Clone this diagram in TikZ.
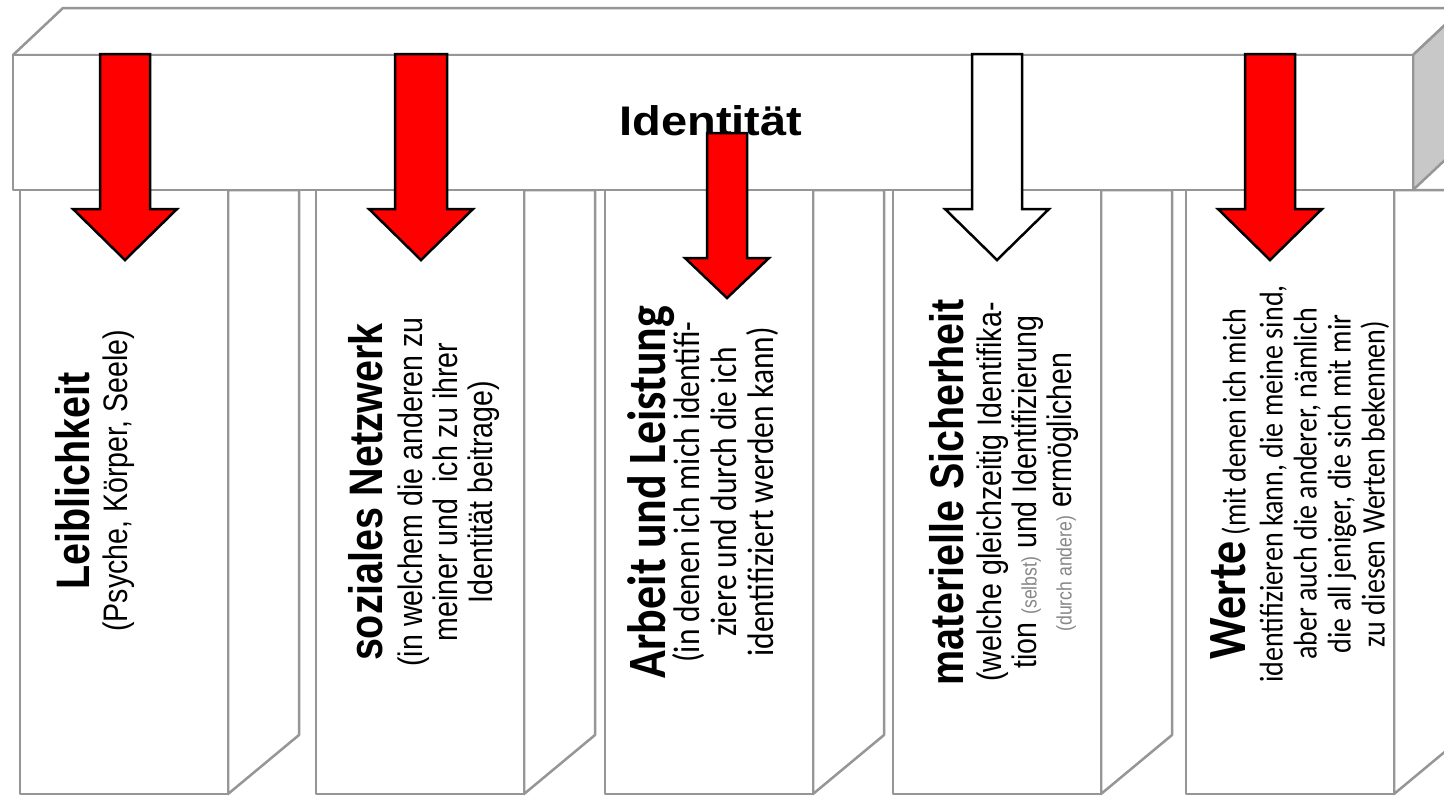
\documentclass[tikz,border=0pt]{standalone}
\usepackage{fontspec}
\usepackage{graphicx}
\setmainfont{Liberation Sans}
\newfontfamily\arialschmal[FakeStretch=0.84]{Liberation Sans}
\newfontfamily\calibrischmal[FakeStretch=0.85]{Carlito}

\definecolor{kante}{RGB}{150,150,150}
\definecolor{seite}{RGB}{200,200,200}
\definecolor{pfeilrot}{RGB}{255,0,0}
\definecolor{klein}{RGB}{135,135,135}

\newcommand{\kopfA}{\arialschmal\bfseries\fontsize{47}{50}\selectfont}
\newcommand{\textA}{\arialschmal\fontsize{34}{35}\selectfont}
\newcommand{\kopfC}{\calibrischmal\bfseries\fontsize{54}{56}\selectfont}
\newcommand{\textC}{\calibrischmal\fontsize{37}{37}\selectfont}
\newcommand{\textCC}{\calibrischmal\fontsize{33}{34}\selectfont}
\newcommand{\kleingrau}{\fontsize{21}{21}\selectfont\color{klein}}

% Blockpfeil: [Farbe]{Mitte}{oben}{Schaftende}{Spitze}{halbe Schaftbreite}{halbe Kopfbreite}
\newcommand{\pfeil}[7][pfeilrot]{\draw[pfeilrand, fill=#1] ({#2-#6},#3) -- ({#2+#6},#3) -- ({#2+#6},#4) -- ({#2+#7},#4) -- (#2,#5) -- ({#2-#7},#4) -- ({#2-#6},#4) -- cycle;}

\begin{document}
\begin{tikzpicture}[x=1pt, y=-1pt,
	kanten/.style={draw=kante, line width=2.5pt, line join=round},
	pfeilrand/.style={draw=black, line width=2.5pt, line join=miter},
	spalte/.style={rotate=90, align=center, inner sep=0pt}] %Beginn, Pixelmaßstab
					\useasboundingbox (0,0) rectangle (1444,796); %Bildgröße
					\fill[white] (0,0) rectangle (1444,796); %Hintergrund
					\clip (0,0) rectangle (1444,796);
						%Säulen
					\foreach \xl in {20,316,605,893,1186}{
						\draw[kanten, fill=white] (\xl+208,190) -- (\xl+279,190) -- (\xl+279,735) -- (\xl+208,794) -- cycle; %Seitenfläche
						\draw[kanten, fill=white] (\xl,190) rectangle (\xl+208,794); %Vorderseite
					}
						%Balken
					\draw[kanten, fill=white] (13,55) -- (63,8) -- (1463,8) -- (1413,55) -- cycle; %Oberseite
					\draw[kanten, fill=seite] (1413,55) -- (1463,8) -- (1463,143) -- (1413,190) -- cycle; %rechte Seite
					\draw[kanten, fill=white] (13,55) rectangle (1413,190); %Vorderseite
					\node[anchor=base, font=\bfseries\fontsize{47}{50}\selectfont] (identitaet) at (711,135) {\scalebox{1}[0.88]{Identität}};
						%Beschriftung der Säulen
					\node[spalte, font=\textA] (leib) at (95,481) {{\kopfA Leiblichkeit}\\[3pt](Psyche, Körper, Seele)};
					\node[spalte, font=\textA] (netz) at (424,492) {{\kopfA soziales Netzwerk}\\[5pt](in welchem die anderen zu\\meiner und~ ich zu ihrer\\Identität beitrage)};
					\node[spalte, font=\textC] (arbeit) at (703,492) {{\kopfC Arbeit und Leistung}\\[-3pt](in denen ich mich identifi-\\ziere und durch die ich\\identifiziert werden kann)};
					\node[spalte, font=\textA] (sicher) at (1004,492) {{\kopfA materielle Sicherheit}\\[3pt](welche gleichzeitig Identifika-\\tion {\kleingrau(selbst)} und Identifizierung\\{\kleingrau(durch andere)} ermöglichen};
					\node[spalte, font=\textCC] (werte) at (1300,484) {{\kopfC Werte} (mit denen ich mich\\[3pt]identifizieren kann, die meine sind,\\aber auch die anderer, nämlich\\die all jeniger, die sich mit mir\\zu diesen Werten bekennen)};
						%Pfeile
					\pfeil{125}{54}{209}{260}{25}{52} %Leiblichkeit
					\pfeil{421}{54}{209}{260}{26}{52} %soziales Netzwerk
					\pfeil{727}{133}{258}{298}{20}{42} %Arbeit und Leistung
					\pfeil[white]{997}{54}{209}{260}{25}{52} %materielle Sicherheit
					\pfeil{1270}{54}{209}{260}{25}{52} %Werte
				\end{tikzpicture}
\end{document}
